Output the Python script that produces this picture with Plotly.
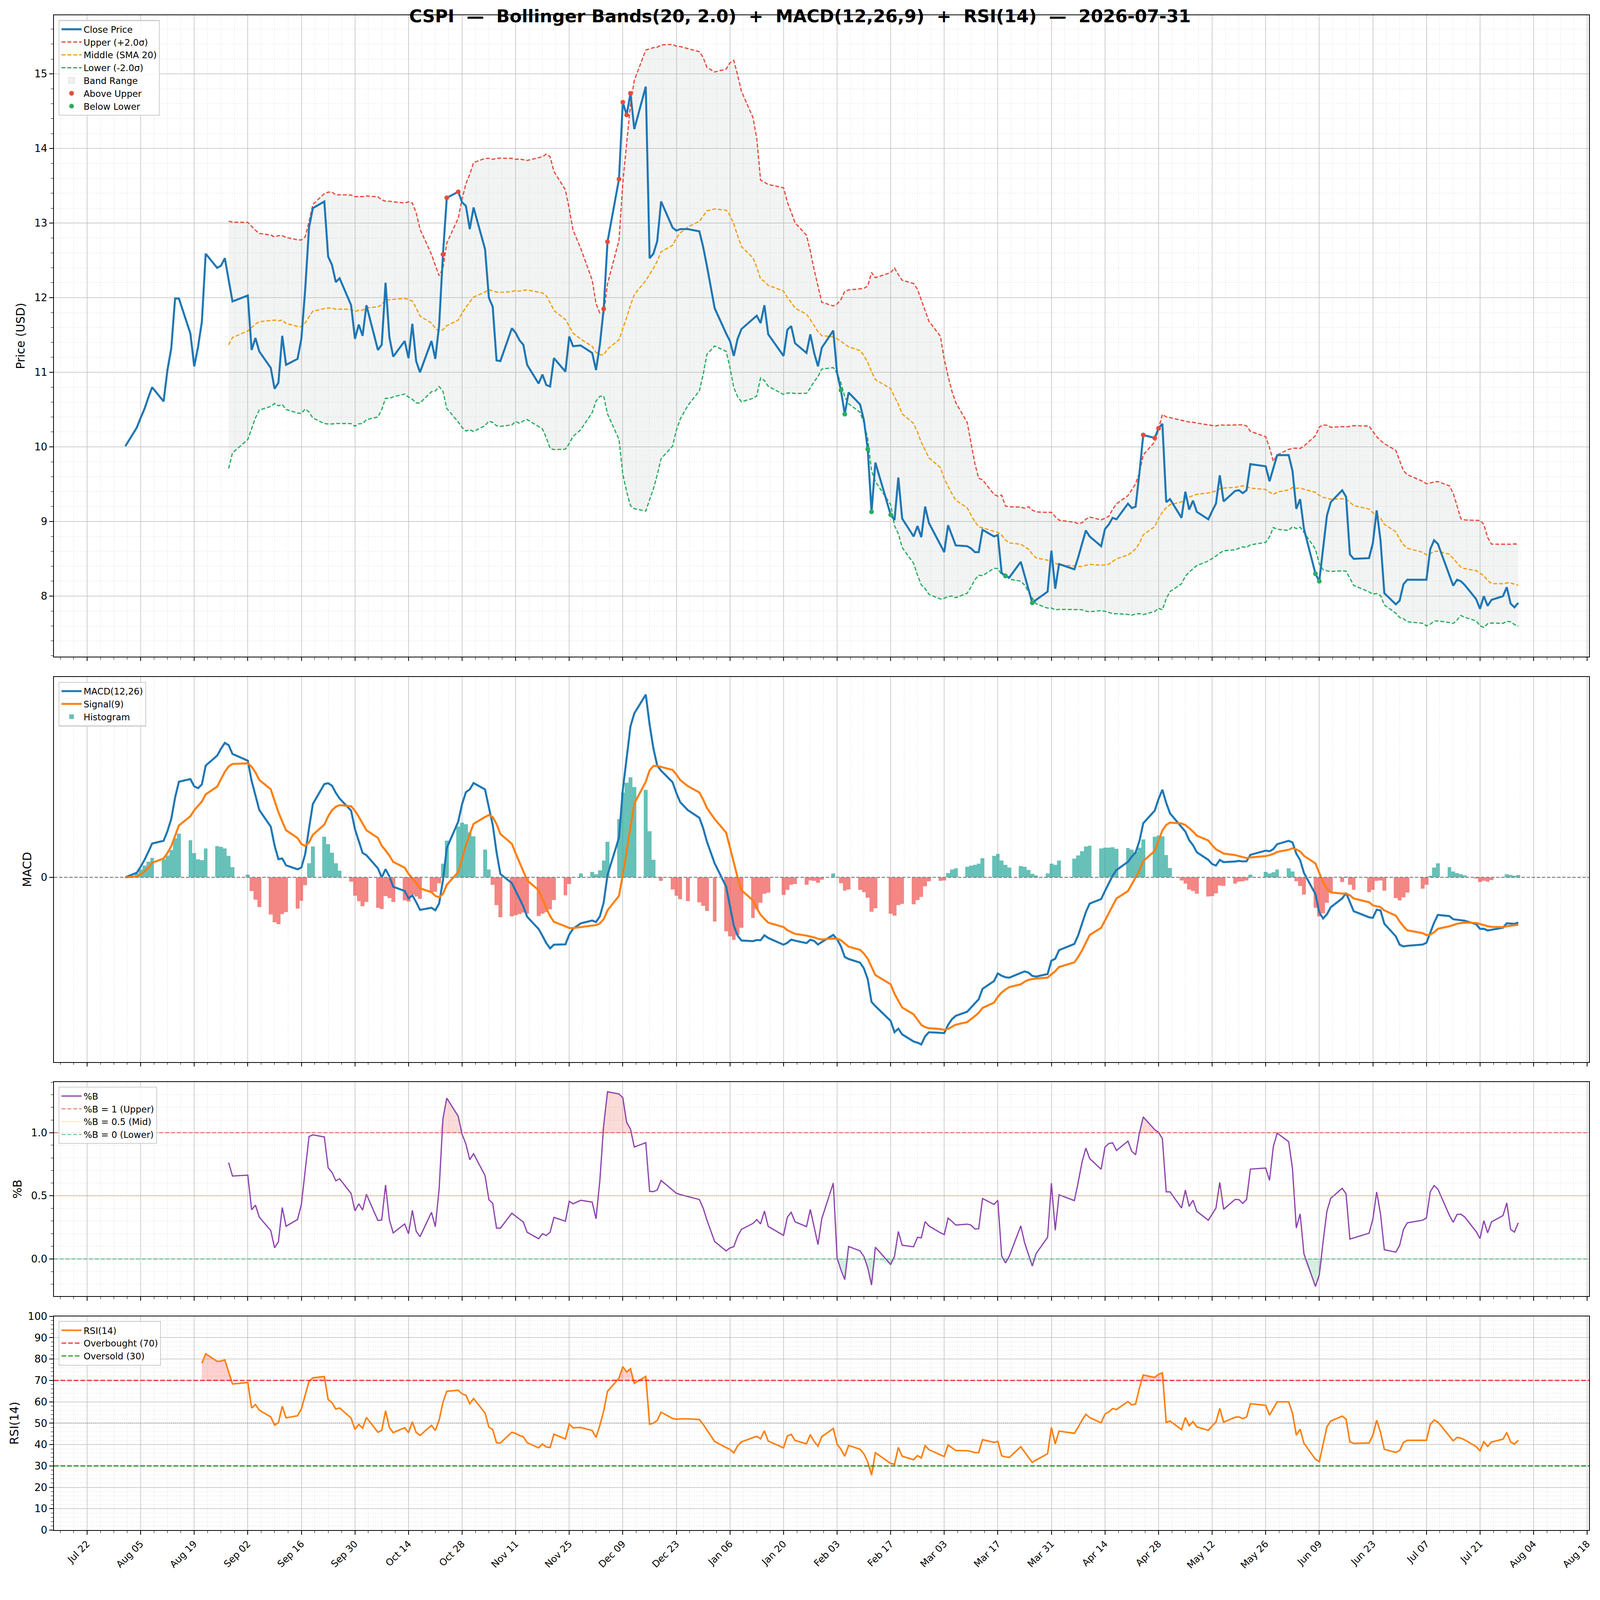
import numpy as np
import pandas as pd
import plotly.graph_objects as go
from plotly.subplots import make_subplots

TICKER = "CSPI"
AS_OF = "2026-07-31"
BB_WINDOW, BB_K = 20, 2.0
MACD_FAST, MACD_SLOW, MACD_SIGNAL = 12, 26, 9
RSI_PERIOD = 14

# exchange holidays inside the window (no rows on these days)
holidays = [
    "2025-09-01", "2025-11-27", "2025-12-25", "2026-01-01", "2026-01-19",
    "2026-02-16", "2026-04-03", "2026-05-25", "2026-06-19", "2026-07-03",
]

# daily closes, read month by month
close_aug = [10.01, 10.26, 10.39, 10.51, 10.66, 10.80, 10.61, 11.03, 11.32, 11.99, 11.99,
             11.52, 11.08, 11.34, 11.68, 12.59, 12.40, 12.43, 12.53, 12.24, 11.95]
close_sep = [12.03, 11.30, 11.46, 11.28, 11.06, 10.78, 10.86, 11.49, 11.10, 11.18, 11.45,
             12.11, 12.94, 13.20, 13.29, 12.55, 12.44, 12.21, 12.26, 11.90, 11.45]
close_oct = [11.64, 11.49, 11.90, 11.30, 11.37, 12.20, 11.47, 11.21, 11.42, 11.19, 11.65,
             11.15, 11.00, 11.42, 11.18, 11.63, 12.58, 13.34, 13.42, 13.28, 13.23, 12.92, 13.21]
close_nov = [12.65, 12.00, 11.88, 11.16, 11.15, 11.59, 11.53, 11.43, 11.37, 11.10, 10.85,
             10.97, 10.83, 10.81, 11.19, 11.01, 11.48, 11.35, 11.36]
close_dec = [11.26, 11.03, 11.37, 11.85, 12.75, 13.59, 14.62, 14.45, 14.74, 14.26, 14.83,
             12.53, 12.59, 12.76, 13.29, 12.94, 12.90, 12.92, 12.92, 12.89, 12.68, 12.42]
close_jan = [11.86, 11.52, 11.42, 11.22, 11.45, 11.58, 11.71, 11.76, 11.66, 11.90, 11.51,
             11.22, 11.57, 11.62, 11.39, 11.26, 11.51, 11.26, 11.08, 11.33]
close_feb = [11.56, 10.99, 10.76, 10.44, 10.73, 10.57, 10.36, 9.97, 9.13, 9.79, 9.09,
             9.02, 9.59, 9.04, 8.80, 8.94, 8.79, 9.20, 8.98]
close_mar = [8.69, 8.59, 8.95, 8.82, 8.68, 8.67, 8.64, 8.59, 8.59, 8.89, 8.80, 8.82,
             8.31, 8.27, 8.25, 8.46, 8.28, 8.10, 7.91, 7.95, 8.06, 8.61]
close_apr = [8.10, 8.43, 8.36, 8.52, 8.71, 8.88, 8.80, 8.67, 8.90, 8.96, 9.05, 9.03,
             9.24, 9.18, 9.20, 9.65, 10.16, 10.12, 10.25, 10.31, 9.26]
close_may = [9.30, 9.05, 9.40, 9.16, 9.28, 9.13, 9.03, 9.14, 9.24, 9.62, 9.27, 9.41,
             9.42, 9.38, 9.42, 9.77, 9.74, 9.54, 9.71, 9.89]
close_jun = [9.89, 9.68, 9.17, 9.30, 8.90, 8.30, 8.20, 8.62, 9.08, 9.26, 9.42, 9.33,
             8.56, 8.50, 8.51, 8.71, 9.15, 8.75, 8.04, 7.89, 7.94]
close_jul = [8.16, 8.22, 8.22, 8.22, 8.63, 8.75, 8.70, 8.28, 8.14, 8.22, 8.20, 8.15,
             7.96, 7.83, 8.00, 7.87, 7.95, 8.00, 8.12, 7.90, 7.85, 7.91]

FONT = "DejaVu Sans"
C_CLOSE = "#1f77b4"
C_UPPER = "#e74c3c"
C_MID = "#f39c12"
C_LOWER = "#27ae60"
C_SIGNAL = "#ff7f0e"
C_PCTB = "#8e44ad"
C_BAND = "rgba(149,165,166,0.12)"

# the page is shot at a slight device scale, so sizes are given in css px
DPR = 4378 / 4096
BODY = 8  # default body margin of the html page


def sz(v):
    return v / DPR


def pos(v):
    return v / DPR - BODY


dates = pd.bdate_range("2025-08-01", AS_OF, freq="C", holidays=holidays)
close = pd.Series(
    close_aug + close_sep + close_oct + close_nov + close_dec + close_jan
    + close_feb + close_mar + close_apr + close_may + close_jun + close_jul,
    index=dates,
)

# --- indicators -----------------------------------------------------------
mid = close.rolling(BB_WINDOW).mean()
std = close.rolling(BB_WINDOW).std()
upper = mid + BB_K * std
lower = mid - BB_K * std
pct_b = (close - lower) / (upper - lower)

ema_fast = close.ewm(span=MACD_FAST, adjust=False).mean()
ema_slow = close.ewm(span=MACD_SLOW, adjust=False).mean()
macd = ema_fast - ema_slow
signal = macd.ewm(span=MACD_SIGNAL, adjust=False).mean()
hist = macd - signal

delta = close.diff()
avg_gain = delta.clip(lower=0).ewm(alpha=1 / RSI_PERIOD, adjust=False, min_periods=RSI_PERIOD).mean()
avg_loss = (-delta.clip(upper=0)).ewm(alpha=1 / RSI_PERIOD, adjust=False, min_periods=RSI_PERIOD).mean()
rsi = 100 - 100 / (1 + avg_gain / avg_loss)

bb_ok = upper.notna()
above = close[close > upper]
below = close[close < lower]
rsi_ok = rsi.notna()


def padded(lo, hi, frac=0.05):
    span = hi - lo
    return [lo - frac * span, hi + frac * span]


x_range = ["2025-07-13 08:00", "2026-08-18 12:00"]

# --- figure ---------------------------------------------------------------
fig = make_subplots(rows=4, cols=1, shared_xaxes=True)

band_w = sz(3.4)

# price panel
d_bb = dates[bb_ok]
fig.add_trace(go.Scatter(x=d_bb, y=upper[bb_ok], mode="lines", line=dict(width=0),
                         showlegend=False, hoverinfo="skip"), row=1, col=1)
fig.add_trace(go.Scatter(x=d_bb, y=lower[bb_ok], mode="lines", line=dict(width=0),
                         fill="tonexty", fillcolor=C_BAND,
                         showlegend=False, hoverinfo="skip"), row=1, col=1)
fig.add_trace(go.Scatter(x=[None], y=[None], mode="markers", name="Band Range",
                         marker=dict(symbol="square", size=sz(20), color="rgba(149,165,166,0.14)",
                                     line=dict(color="rgba(149,165,166,0.3)", width=sz(1.5))),
                         legend="legend", legendrank=5), row=1, col=1)
fig.add_trace(go.Scatter(x=dates, y=upper, mode="lines", name="Upper (+2.0σ)",
                         line=dict(color=C_UPPER, width=band_w, dash="10px,5px"),
                         legend="legend", legendrank=2), row=1, col=1)
fig.add_trace(go.Scatter(x=dates, y=mid, mode="lines", name="Middle (SMA 20)",
                         line=dict(color=C_MID, width=band_w, dash="10px,5px"),
                         legend="legend", legendrank=3), row=1, col=1)
fig.add_trace(go.Scatter(x=dates, y=lower, mode="lines", name="Lower (-2.0σ)",
                         line=dict(color=C_LOWER, width=band_w, dash="10px,5px"),
                         legend="legend", legendrank=4), row=1, col=1)
fig.add_trace(go.Scatter(x=dates, y=close, mode="lines", name="Close Price",
                         line=dict(color=C_CLOSE, width=sz(5.5)),
                         legend="legend", legendrank=1), row=1, col=1)
fig.add_trace(go.Scatter(x=above.index, y=above, mode="markers", name="Above Upper",
                         marker=dict(color=C_UPPER, size=sz(13)),
                         legend="legend", legendrank=6), row=1, col=1)
fig.add_trace(go.Scatter(x=below.index, y=below, mode="markers", name="Below Lower",
                         marker=dict(color=C_LOWER, size=sz(13)),
                         legend="legend", legendrank=7), row=1, col=1)

# MACD panel
hist_colors = np.where(hist >= 0, "rgba(38,166,154,0.7)", "rgba(239,83,80,0.7)")
fig.add_trace(go.Bar(x=dates, y=hist, name="Histogram", width=86400000,
                     marker=dict(color=hist_colors, line=dict(width=0)),
                     legend="legend2", legendrank=3), row=2, col=1)
fig.add_trace(go.Scatter(x=dates, y=macd, mode="lines", name="MACD(12,26)",
                         line=dict(color=C_CLOSE, width=sz(5.5)),
                         legend="legend2", legendrank=1), row=2, col=1)
fig.add_trace(go.Scatter(x=dates, y=signal, mode="lines", name="Signal(9)",
                         line=dict(color=C_SIGNAL, width=sz(5.5)),
                         legend="legend2", legendrank=2), row=2, col=1)
fig.add_hline(y=0, line=dict(color="gray", width=sz(2.5), dash="9px,4px"), row=2, col=1)

# %B panel
d_pb = dates[bb_ok]
pb = pct_b[bb_ok]
fig.add_trace(go.Scatter(x=d_pb, y=np.ones(len(pb)), mode="lines", line=dict(width=0),
                         showlegend=False, hoverinfo="skip"), row=3, col=1)
fig.add_trace(go.Scatter(x=d_pb, y=np.maximum(pb, 1.0), mode="lines", line=dict(width=0),
                         fill="tonexty", fillcolor="rgba(231,76,60,0.2)",
                         showlegend=False, hoverinfo="skip"), row=3, col=1)
fig.add_trace(go.Scatter(x=d_pb, y=np.zeros(len(pb)), mode="lines", line=dict(width=0),
                         showlegend=False, hoverinfo="skip"), row=3, col=1)
fig.add_trace(go.Scatter(x=d_pb, y=np.minimum(pb, 0.0), mode="lines", line=dict(width=0),
                         fill="tonexty", fillcolor="rgba(39,174,96,0.2)",
                         showlegend=False, hoverinfo="skip"), row=3, col=1)
fig.add_trace(go.Scatter(x=d_pb, y=pb, mode="lines", name="%B",
                         line=dict(color=C_PCTB, width=sz(3.4)),
                         legend="legend3", legendrank=1), row=3, col=1)
pctb_refs = [
    (1.0, "%B = 1 (Upper)", "rgba(231,76,60,0.7)", "10px,5px"),
    (0.5, "%B = 0.5 (Mid)", "rgba(243,156,18,0.6)", "2px,3px"),
    (0.0, "%B = 0 (Lower)", "rgba(39,174,96,0.7)", "10px,5px"),
]
for rank, (level, label, color, dash) in enumerate(pctb_refs, start=2):
    fig.add_hline(y=level, line=dict(color=color, width=sz(2.8), dash=dash), row=3, col=1)
    fig.add_trace(go.Scatter(x=[None], y=[None], mode="lines", name=label,
                             line=dict(color=color, width=sz(2.8), dash=dash),
                             legend="legend3", legendrank=rank), row=3, col=1)

# RSI panel
d_rsi = dates[rsi_ok]
rv = rsi[rsi_ok]
fig.add_trace(go.Scatter(x=d_rsi, y=np.full(len(rv), 70.0), mode="lines", line=dict(width=0),
                         showlegend=False, hoverinfo="skip"), row=4, col=1)
fig.add_trace(go.Scatter(x=d_rsi, y=np.maximum(rv, 70.0), mode="lines", line=dict(width=0),
                         fill="tonexty", fillcolor="rgba(255,0,0,0.18)",
                         showlegend=False, hoverinfo="skip"), row=4, col=1)
fig.add_trace(go.Scatter(x=d_rsi, y=np.full(len(rv), 30.0), mode="lines", line=dict(width=0),
                         showlegend=False, hoverinfo="skip"), row=4, col=1)
fig.add_trace(go.Scatter(x=d_rsi, y=np.minimum(rv, 30.0), mode="lines", line=dict(width=0),
                         fill="tonexty", fillcolor="rgba(0,128,0,0.18)",
                         showlegend=False, hoverinfo="skip"), row=4, col=1)
fig.add_trace(go.Scatter(x=d_rsi, y=rv, mode="lines", name="RSI(14)",
                         line=dict(color=C_SIGNAL, width=sz(4.2)),
                         legend="legend4", legendrank=1), row=4, col=1)
fig.add_hline(y=50, line=dict(color="rgba(128,128,128,0.8)", width=sz(2.2), dash="2px,3px"),
              row=4, col=1)
rsi_refs = [
    (70, "Overbought (70)", "rgba(255,0,0,0.75)", "12px,5px"),
    (30, "Oversold (30)", "rgba(0,128,0,0.75)", "12px,5px"),
]
for rank, (level, label, color, dash) in enumerate(rsi_refs, start=2):
    fig.add_hline(y=level, line=dict(color=color, width=sz(3.6), dash=dash), row=4, col=1)
    fig.add_trace(go.Scatter(x=[None], y=[None], mode="lines", name=label,
                             line=dict(color=color, width=sz(3.6), dash=dash),
                             legend="legend4", legendrank=rank), row=4, col=1)

# --- layout ---------------------------------------------------------------
W, H = 4096 - 2 * BODY, round(4322 / DPR) - 2 * BODY
M_L, M_T = pos(147), pos(42)
M_R, M_B = W - pos(4354), H - pos(4187)
# panel boxes in reference px from the top of the plot area
plot_px = 4187 - 42
panels = [(0, 1755), (1811, 2864), (2919, 3505), (3560, 4145)]
domains = [[1 - bot / plot_px, 1 - top / plot_px] for top, bot in panels]

grid_major = "rgba(190,190,190,0.75)"
grid_minor = "rgba(200,200,200,0.6)"
day_ms = 86400000
tick_major = dict(ticks="outside", ticklen=sz(10), tickwidth=sz(2), tickcolor="black")
minor_style = dict(ticks="outside", ticklen=sz(6), tickwidth=sz(1.5), tickcolor="black",
                   showgrid=True, gridcolor=grid_minor, griddash="dot", gridwidth=sz(1.5))

for i in range(1, 5):
    fig.update_xaxes(
        type="date", range=x_range, tick0="2025-07-22", dtick=14 * day_ms,
        tickformat="%b %d", **tick_major,
        showline=True, linecolor="black", linewidth=sz(2.5), mirror=True,
        showgrid=True, gridcolor=grid_major, gridwidth=sz(2),
        minor=dict(tick0="2025-07-22", dtick=3.5 * day_ms, **minor_style),
        tickfont=dict(family=FONT, size=sz(26), color="black"),
        zeroline=False, row=i, col=1,
    )
fig.update_xaxes(tickangle=-45, showticklabels=True, row=4, col=1)

yaxis_common = dict(
    **tick_major,
    showline=True, linecolor="black", linewidth=sz(2.5), mirror=True,
    gridcolor=grid_major, gridwidth=sz(2), zeroline=False,
    tickfont=dict(family=FONT, size=sz(28), color="black"),
    title_font=dict(family=FONT, size=sz(32), color="black"),
)
price_all = pd.concat([close, upper.dropna(), lower.dropna()])
fig.update_yaxes(
    **yaxis_common, title_text="Price (USD)", range=padded(price_all.min(), price_all.max()),
    dtick=1, showgrid=True, minor=dict(dtick=0.2, **minor_style), row=1, col=1,
)
macd_all = pd.concat([macd, signal, hist])
fig.update_yaxes(
    **yaxis_common, title_text="MACD", range=padded(macd_all.min(), macd_all.max()),
    tickvals=[0], ticktext=["0"], showgrid=False, row=2, col=1,
)
fig.update_yaxes(
    **yaxis_common, title_text="%B", range=padded(pb.min(), pb.max()),
    dtick=0.5, tickformat=".1f", showgrid=True, minor=dict(dtick=0.1, **minor_style),
    row=3, col=1,
)
fig.update_yaxes(
    **yaxis_common, title_text="RSI(14)", range=[0, 100], dtick=10, showgrid=True,
    minor=dict(dtick=2, **minor_style), row=4, col=1,
)

legend_style = dict(
    x=(160 - 147) / (4354 - 147), xanchor="left", yanchor="top",
    bgcolor="rgba(255,255,255,0.85)", bordercolor="#cccccc", borderwidth=sz(2.5),
    font=dict(family=FONT, size=sz(24.5), color="black"), traceorder="normal",
    itemwidth=sz(55),
)
layout_axes = {}
for i, dom in enumerate(domains, start=1):
    key = "yaxis" if i == 1 else f"yaxis{i}"
    layout_axes[key] = dict(domain=dom)

fig.update_layout(
    **layout_axes,
    width=W, height=H,
    margin=dict(l=M_L, r=M_R, t=M_T, b=M_B),
    paper_bgcolor="white", plot_bgcolor="white",
    font=dict(family=FONT, color="black"),
    barmode="overlay", bargap=0,
    title=dict(
        text=(f"{TICKER}  —  Bollinger Bands({BB_WINDOW}, {BB_K})  +  "
              f"MACD({MACD_FAST},{MACD_SLOW},{MACD_SIGNAL})  +  RSI({RSI_PERIOD})  —  {AS_OF}"),
        x=0.5, xanchor="center", y=1 - pos(44) / H, yanchor="middle",
        font=dict(family=FONT, size=sz(48), color="black", weight="bold"),
    ),
    legend=dict(**legend_style, y=domains[0][1] - 13 / plot_px),
    legend2=dict(**legend_style, y=domains[1][1] - 13 / plot_px),
    legend3=dict(**legend_style, y=domains[2][1] - 13 / plot_px),
    legend4=dict(**legend_style, y=domains[3][1] - 13 / plot_px),
)

fig.write_html("out.html")
